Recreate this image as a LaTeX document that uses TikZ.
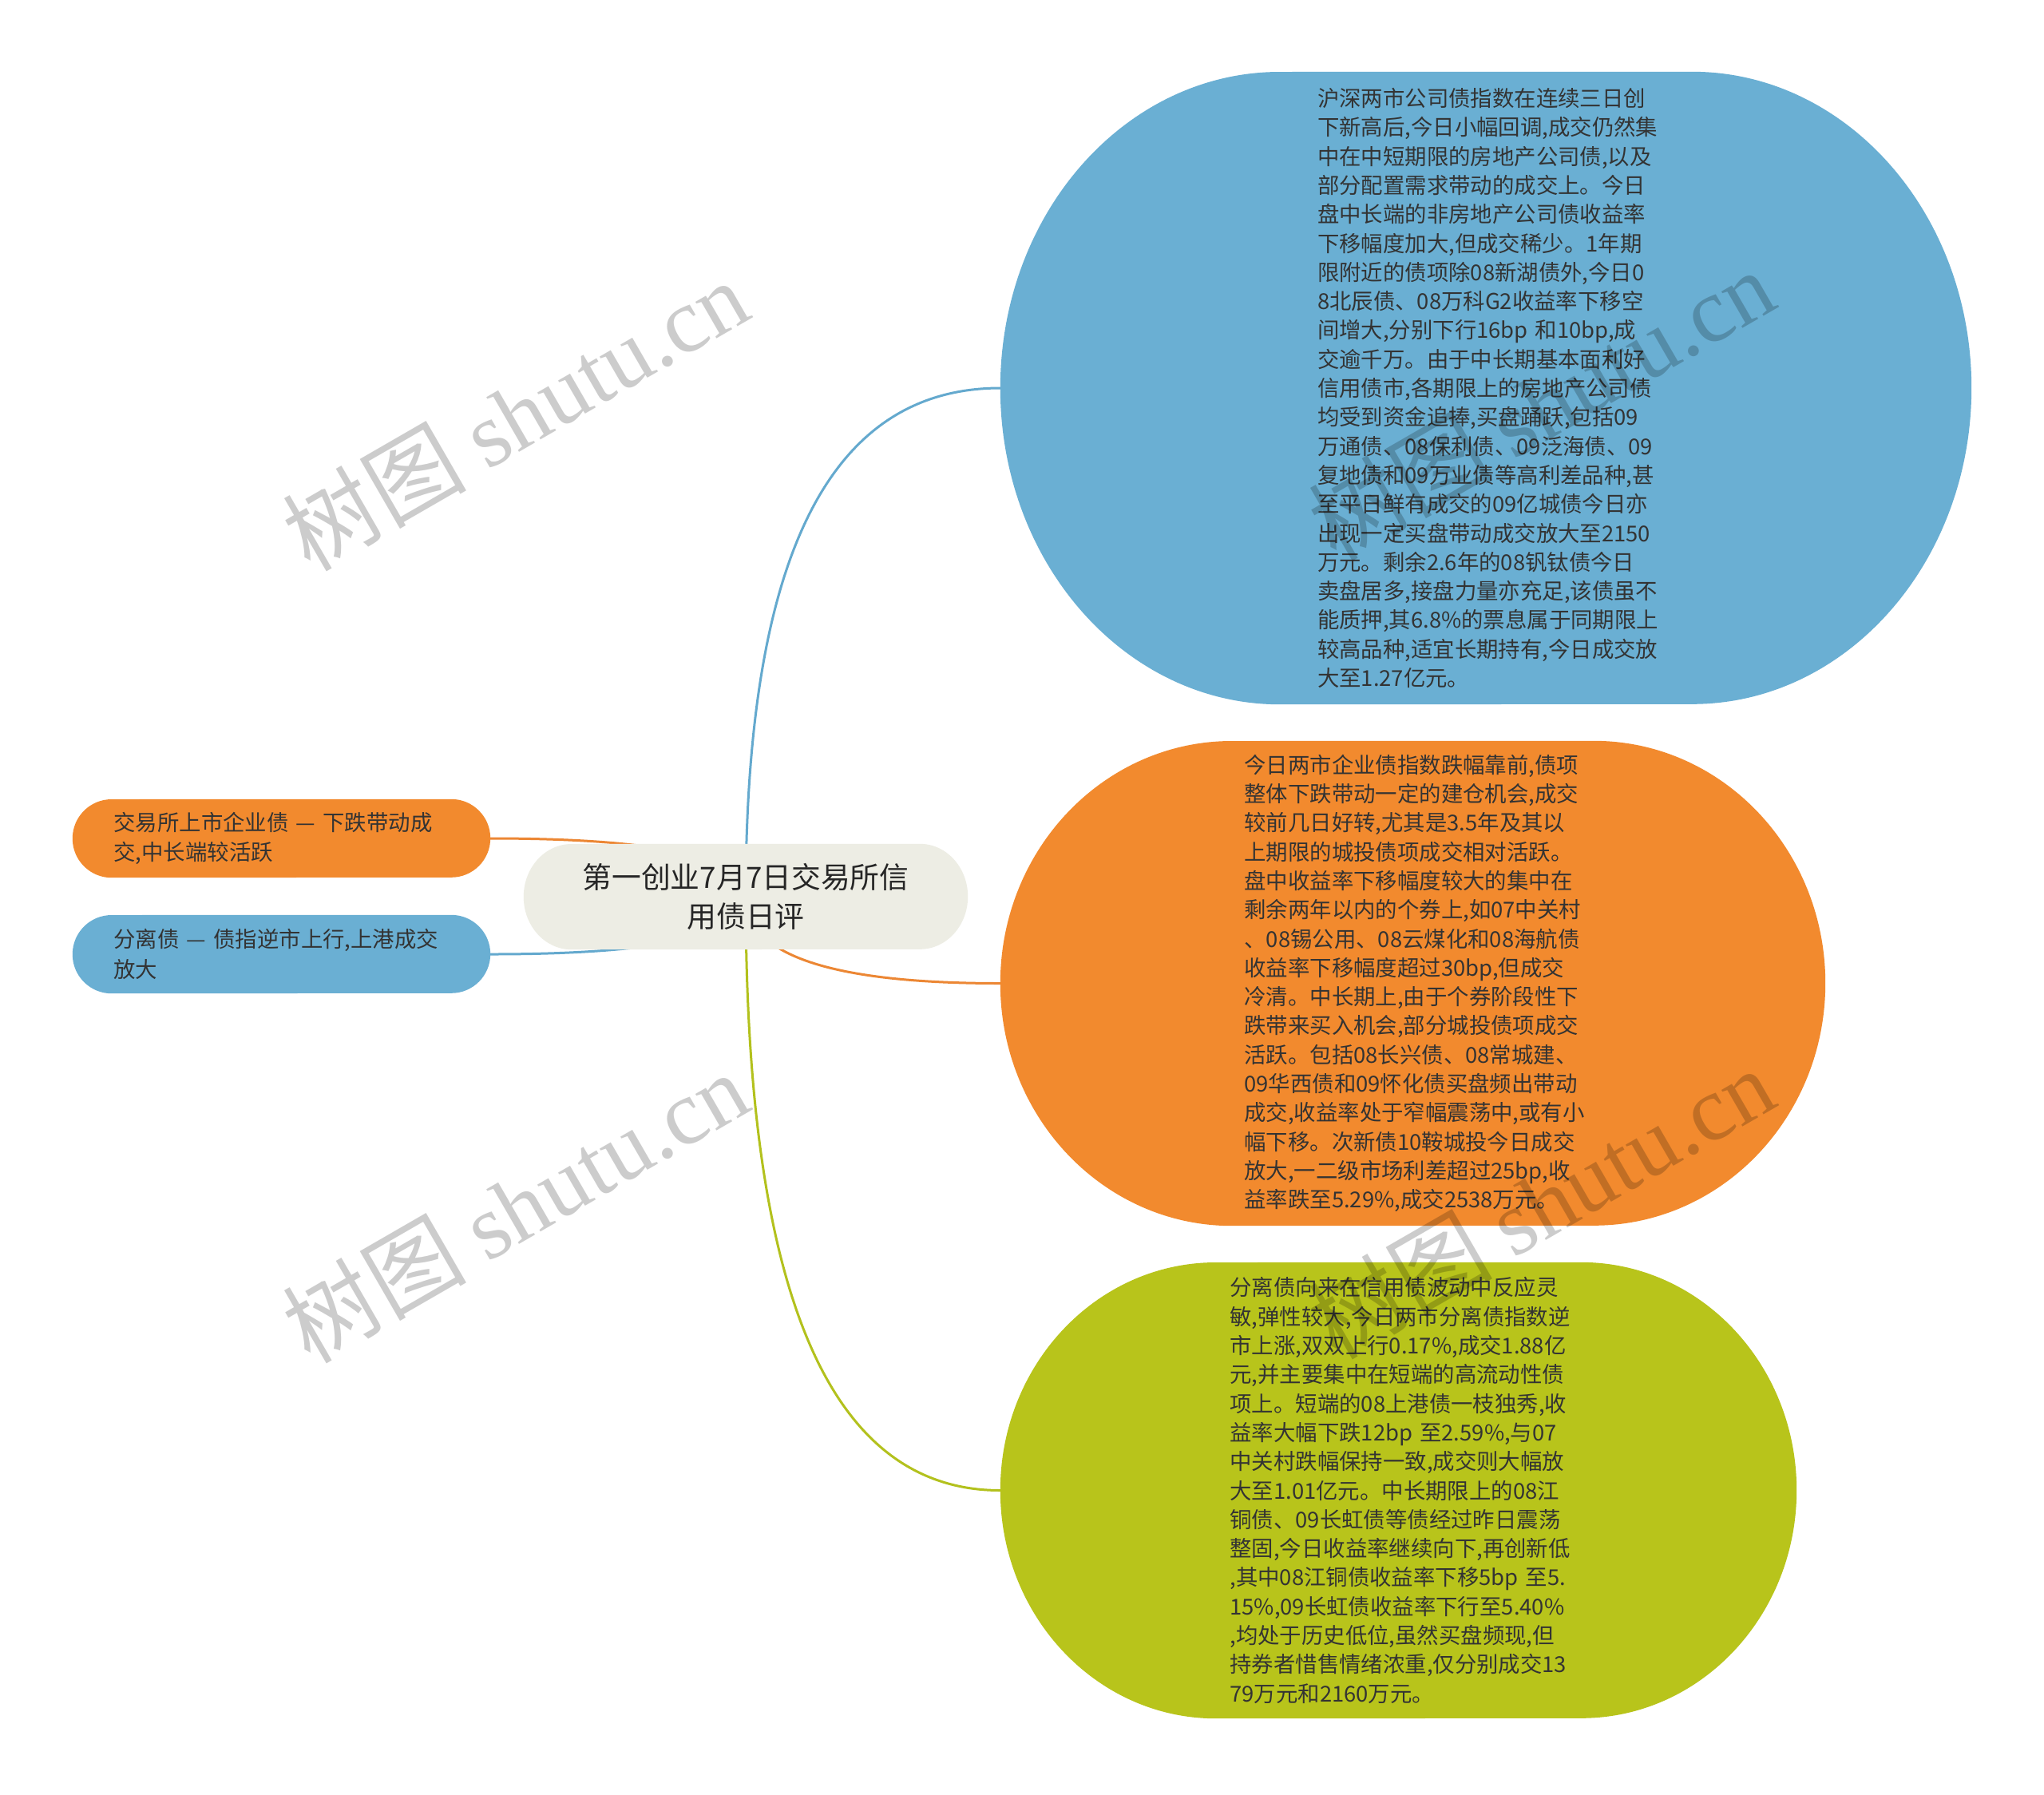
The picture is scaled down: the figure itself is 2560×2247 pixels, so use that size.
\documentclass[tikz,border=0pt]{standalone}
\usepackage{fontspec}
\usetikzlibrary{calc, backgrounds}
\newfontfamily\cjk{Noto Sans CJK SC}
\newfontfamily\wmserif{Liberation Serif}
\definecolor{cblue}{HTML}{6AAFD3}
\definecolor{corange}{HTML}{F28A2E}
\definecolor{cgreen}{HTML}{B8C41B}
\definecolor{croot}{HTML}{EDEDE4}
\definecolor{ctext}{HTML}{333333}
\definecolor{lblue}{HTML}{64A9CE}
\definecolor{lorange}{HTML}{EC8734}
\definecolor{lgreen}{HTML}{B3C11D}
% rounded blob behind a named node: node, corner x radius, half height, colour
\newcommand{\blob}[4]{\fill[#4] (#1.west)
  arc[start angle=180, end angle=90, x radius=#2, y radius=#3]
  -- ([xshift=-#2pt]#1.north east)
  arc[start angle=90, end angle=-90, x radius=#2, y radius=#3]
  -- ([xshift=#2pt]#1.south west)
  arc[start angle=270, end angle=180, x radius=#2, y radius=#3] -- cycle;}

\begin{document}
\begin{tikzpicture}[x=1pt, y=1pt,
  box/.style 2 args={minimum width=#1pt, minimum height=#2pt, inner sep=0pt},
  txt/.style={text=ctext, font=\cjk\fontsize{27.4}{36.3}\selectfont, align=left, text width=422pt},
  leaf/.style={text=ctext, font=\cjk\fontsize{27.4}{37.5}\selectfont, align=left, text width=420pt},
  link/.style={line width=3pt},
  wm/.style={rotate=30, text=black, opacity=0.2, font=\fontsize{115}{115}\selectfont}
]
  \useasboundingbox (0,0) rectangle (2560,-2247);

  % centre
  \node[box={556}{132}, text=black!85, font=\cjk\fontsize{36.8}{49}\selectfont, align=center] (root) at (934,-1123)
    {第一创业7月7日交易所信\\用债日评};

  % left side
  \node[box={523}{98}, leaf] (lorange) at (352.5,-1050)
    {交易所上市企业债 — 下跌带动成\\交,中长端较活跃};
  \node[box={523}{98}, leaf] (lblue) at (352.5,-1195)
    {分离债 — 债指逆市上行,上港成交\\放大};

  % right side
  \node[box={1216}{792}, txt] (rblue) at (1861,-486) {%
沪深两市公司债指数在连续三日创\\
下新高后,今日小幅回调,成交仍然集\\
中在中短期限的房地产公司债,以及\\
部分配置需求带动的成交上。今日\\
盘中长端的非房地产公司债收益率\\
下移幅度加大,但成交稀少。1年期\\
限附近的债项除08新湖债外,今日0\\
8北辰债、08万科G2收益率下移空\\
间增大,分别下行16bp 和10bp,成\\
交逾千万。由于中长期基本面利好\\
信用债市,各期限上的房地产公司债\\
均受到资金追捧,买盘踊跃,包括09\\
万通债、08保利债、09泛海债、09\\
复地债和09万业债等高利差品种,甚\\
至平日鲜有成交的09亿城债今日亦\\
出现一定买盘带动成交放大至2150\\
万元。剩余2.6年的08钒钛债今日\\
卖盘居多,接盘力量亦充足,该债虽不\\
能质押,其6.8\%的票息属于同期限上\\
较高品种,适宜长期持有,今日成交放\\
大至1.27亿元。};

  \node[box={1033}{607}, txt] (rorange) at (1769.5,-1231.5) {%
今日两市企业债指数跌幅靠前,债项\\
整体下跌带动一定的建仓机会,成交\\
较前几日好转,尤其是3.5年及其以\\
上期限的城投债项成交相对活跃。\\
盘中收益率下移幅度较大的集中在\\
剩余两年以内的个券上,如07中关村\\
、08锡公用、08云煤化和08海航债\\
收益率下移幅度超过30bp,但成交\\
冷清。中长期上,由于个券阶段性下\\
跌带来买入机会,部分城投债项成交\\
活跃。包括08长兴债、08常城建、\\
09华西债和09怀化债买盘频出带动\\
成交,收益率处于窄幅震荡中,或有小\\
幅下移。次新债10鞍城投今日成交\\
放大,一二级市场利差超过25bp,收\\
益率跌至5.29\%,成交2538万元。};

  \node[box={997}{571}, txt] (rgreen) at (1751.5,-1866.5) {%
分离债向来在信用债波动中反应灵\\
敏,弹性较大,今日两市分离债指数逆\\
市上涨,双双上行0.17\%,成交1.88亿\\
元,并主要集中在短端的高流动性债\\
项上。短端的08上港债一枝独秀,收\\
益率大幅下跌12bp 至2.59\%,与07\\
中关村跌幅保持一致,成交则大幅放\\
大至1.01亿元。中长期限上的08江\\
铜债、09长虹债等债经过昨日震荡\\
整固,今日收益率继续向下,再创新低\\
,其中08江铜债收益率下移5bp 至5.\\
15\%,09长虹债收益率下行至5.40\%\\
,均处于历史低位,虽然买盘频现,但\\
持券者惜售情绪浓重,仅分别成交13\\
79万元和2160万元。};

  \begin{scope}[on background layer]
    \fill[white] (0,0) rectangle (2560,-2247);
    \draw[link, lblue] (root.center) .. controls ($(root.center)!.67!(root.center |- rblue.west)$) and ($(rblue.west)!.67!(root.center |- rblue.west)$) .. (rblue.west);
    \draw[link, lorange] (root.center) .. controls ($(root.center)!.67!(root.center |- rorange.west)$) and ($(rorange.west)!.67!(root.center |- rorange.west)$) .. (rorange.west);
    \draw[link, lgreen] (root.center) .. controls ($(root.center)!.67!(root.center |- rgreen.west)$) and ($(rgreen.west)!.67!(root.center |- rgreen.west)$) .. (rgreen.west);
    \draw[link, lorange] (root.center) .. controls ($(root.center)!.67!(root.center |- lorange.east)$) and ($(lorange.east)!.67!(root.center |- lorange.east)$) .. (lorange.east);
    \draw[link, lblue] (root.center) .. controls ($(root.center)!.67!(root.center |- lblue.east)$) and ($(lblue.east)!.67!(root.center |- lblue.east)$) .. (lblue.east);
    \blob{root}{60}{66}{croot}
    \blob{lorange}{49}{49}{corange}
    \blob{lblue}{49}{49}{cblue}
    \blob{rblue}{350}{396}{cblue}
    \blob{rorange}{290}{303.5}{corange}
    \blob{rgreen}{270}{285.5}{cgreen}
  \end{scope}

  % watermarks
  \node[wm] (wm1) at (645,-519) {\cjk 树图 \wmserif shutu.cn};
  \node[wm] (wm2) at (645,-1511) {\cjk 树图 \wmserif shutu.cn};
  \node[wm] (wm3) at (1930,-506) {\cjk 树图 \wmserif shutu.cn};
  \node[wm] (wm4) at (1930,-1506) {\cjk 树图 \wmserif shutu.cn};
\end{tikzpicture}
\end{document}
